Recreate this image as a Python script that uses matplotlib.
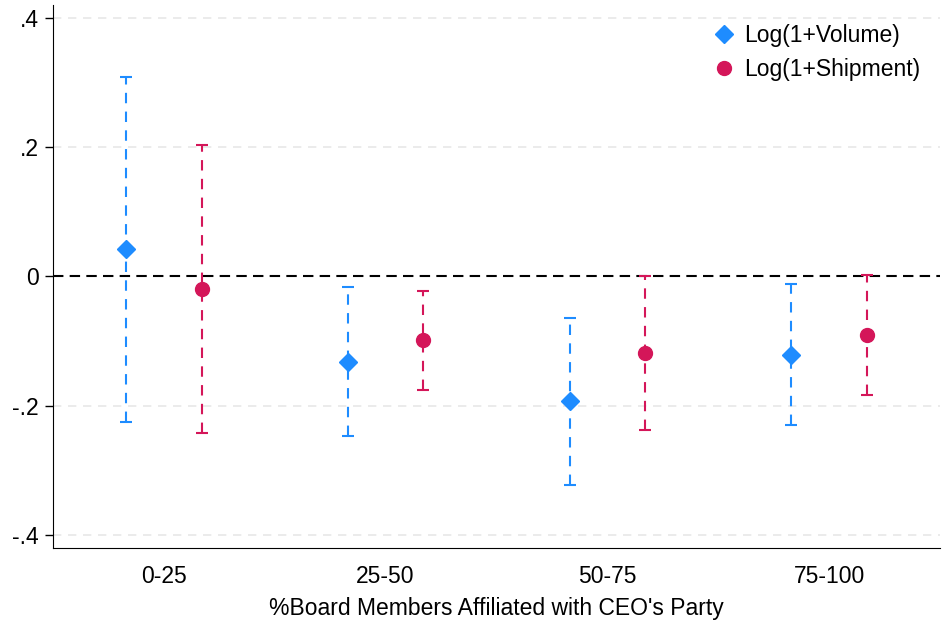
import numpy as np
import matplotlib
matplotlib.use("Agg")
import matplotlib.pyplot as plt

plt.rcParams['font.family'] = ['Liberation Sans', 'DejaVu Sans']

categories = ['0-25', '25-50', '50-75', '75-100']

# point estimates and confidence bounds
vol_coef = [0.042, -0.132, -0.192, -0.121]
vol_hi = [0.309, -0.017, -0.064, -0.012]
vol_lo = [-0.225, -0.247, -0.322, -0.229]

ship_coef = [-0.019, -0.099, -0.118, -0.091]
ship_hi = [0.203, -0.023, 0.000, 0.002]
ship_lo = [-0.242, -0.175, -0.237, -0.184]

blue = '#1E8CFF'
red = '#D41659'
fs = 16.5

fig = plt.figure(figsize=(9.43, 6.21), dpi=100)
ax = fig.add_axes([0.0562, 0.1176, 0.9406, 0.8744])

x = np.arange(1, len(categories) + 1)
off = 0.17

def draw_series(xs, coef, lo, hi, color, marker, ms, label):
    coef = np.array(coef)
    yerr = [coef - np.array(lo), np.array(hi) - coef]
    eb = ax.errorbar(xs, coef, yerr=yerr, fmt='none', ecolor=color,
                     elinewidth=1.5, capsize=4, capthick=1.5, zorder=3)
    eb[2][0].set_linestyle((0, (5, 4)))
    ax.plot(xs, coef, linestyle='none', marker=marker, markersize=ms,
            color=color, label=label, zorder=4)

draw_series(x - off, vol_coef, vol_lo, vol_hi, blue, 'D', 9, 'Log(1+Volume)')
draw_series(x + off, ship_coef, ship_lo, ship_hi, red, 'o', 10, 'Log(1+Shipment)')

ax.axhline(0, color='black', linestyle=(0, (5, 3)), linewidth=1.5, zorder=2)
for yv in [-0.4, -0.2, 0.2, 0.4]:
    ax.axhline(yv, color='#e8e8e8', linestyle=(0, (5, 4)), linewidth=1.2, zorder=1)

ax.set_xlim(0.5, 4.5)
ax.set_ylim(-0.42, 0.42)
ax.set_yticks([-0.4, -0.2, 0, 0.2, 0.4])
ax.set_yticklabels(['-.4', '-.2', '0', '.2', '.4'], fontsize=fs)
ax.set_xticks(x)
ax.set_xticklabels(categories, fontsize=fs)
ax.tick_params(axis='x', length=0, pad=12)
ax.tick_params(axis='y', length=6, width=1, pad=4)
ax.spines['top'].set_visible(False)
ax.spines['right'].set_visible(False)
ax.set_xlabel("%Board Members Affiliated with CEO's Party", fontsize=fs, labelpad=7)

ax.legend(loc='upper right', frameon=False, fontsize=fs, handletextpad=0.3,
          borderaxespad=0.45, labelspacing=0.45, handlelength=1.2)

fig.savefig('out.png', dpi=100)
